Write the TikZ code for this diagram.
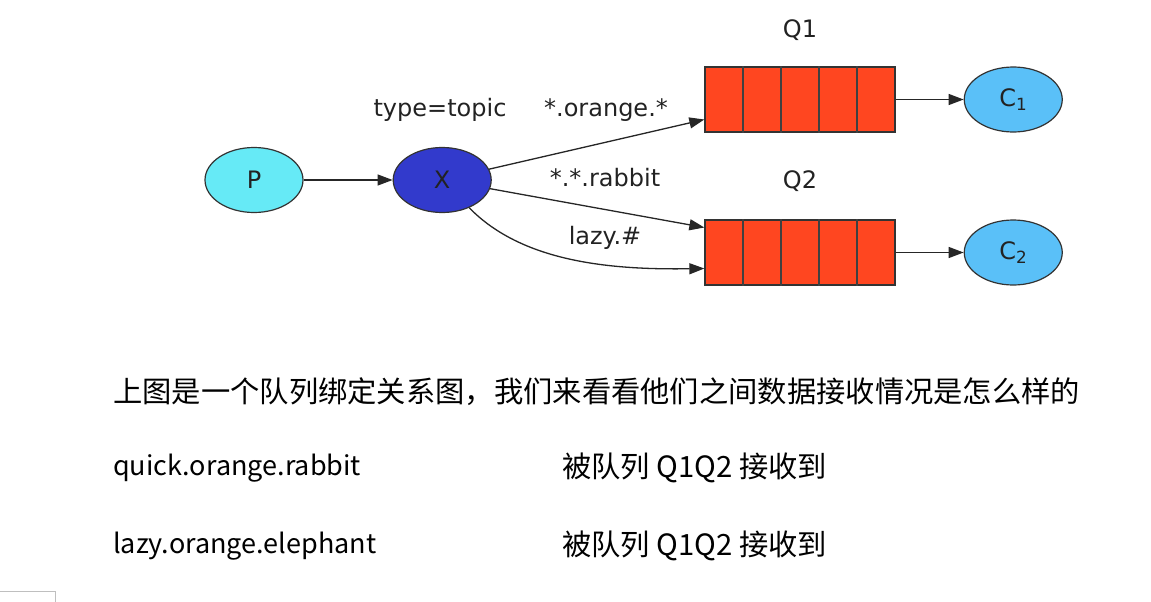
\documentclass[tikz,border=0pt]{standalone}
\usepackage{fontspec}
\setmainfont{DejaVu Sans}
\newfontfamily\cjk{Noto Sans CJK SC}
\usepackage{tikz}
\usetikzlibrary{arrows.meta,positioning,calc,shapes.geometric}

\definecolor{pcyan}{RGB}{102,234,246}
\definecolor{xblue}{RGB}{50,58,204}
\definecolor{qred}{RGB}{255,70,32}
\definecolor{cblue}{RGB}{90,192,248}
\definecolor{ink}{RGB}{34,34,34}

\begin{document}
\begin{tikzpicture}[
  x=1pt, y=-1pt,
  lbl/.style={font=\fontsize{24}{28}\selectfont, text=ink, inner sep=0pt},
  blob/.style={ellipse, draw=black!80, line width=1.2pt, minimum width=98pt, minimum height=65pt, lbl},
  queue/.style={draw=black!80, line width=1.3pt, fill=qred, minimum width=190pt, minimum height=65pt, inner sep=0pt},
  cell/.style={black!75, line width=1.8pt},
  ar/.style={-{Triangle[length=15pt,width=11pt]}, line width=1.3pt, black!85},
  para/.style={font=\cjk\fontsize{29.3}{34}\selectfont, anchor=west, inner sep=0pt},
  key/.style={font=\cjk\fontsize{27}{32}\selectfont, anchor=west, inner sep=0pt}
]
\useasboundingbox (0,0) rectangle (1151,602);
\node[blob, fill=pcyan] (p) at (254,180) {P};
\node[blob, fill=xblue, right=89pt of p] (x) {X};
\node[queue] (q1) at (800,99.5) {};
\node[queue] (q2) at (800,252.5) {};
\foreach \q in {q1,q2}
  \foreach \i in {1,...,4}
    \draw[cell] ($(\q.north west)!\i/5!(\q.north east)$) -- ($(\q.south west)!\i/5!(\q.south east)$);
\node[blob, fill=cblue, right=68pt of q1] (c1) {C\textsubscript{1}};
\node[blob, fill=cblue, right=68pt of q2] (c2) {C\textsubscript{2}};
\node[lbl, above=26pt of q1] (n1) {Q1};
\node[lbl, above=28pt of q2] (n2) {Q2};
\node[lbl] (tp) at (440,110) {type=topic};
\node[lbl] (k1) at (606,110) {*.orange.*};
\node[lbl] (k2) at (605,178) {*.*.rabbit};
\node[lbl] (k3) at (605,238) {lazy.\#};
\draw[ar] (p) -- (x);
\draw[ar] (x) -- ([yshift=-20pt]q1.west);
\draw[ar] (x) -- ([yshift=25pt]q2.west);
\draw[ar] (x) .. controls (522,262) and (610,270) .. ([yshift=-16pt]q2.west);
\draw[ar] (q1) -- (c1);
\draw[ar] (q2) -- (c2);
\node[para] (t1) at (113,392) {上图是一个队列绑定关系图，我们来看看他们之间数据接收情况是怎么样的};
\node[key] (t2) at (113,468) {quick.orange.rabbit};
\node[para] (t3) at (562,468) {被队列 Q1Q2 接收到};
\node[key] (t4) at (113,546) {lazy.orange.elephant};
\node[para] (t5) at (562,546) {被队列 Q1Q2 接收到};
\draw[black!25, line width=1pt] (0,591) -- (55,591) -- (55,602);
\end{tikzpicture}
\end{document}
